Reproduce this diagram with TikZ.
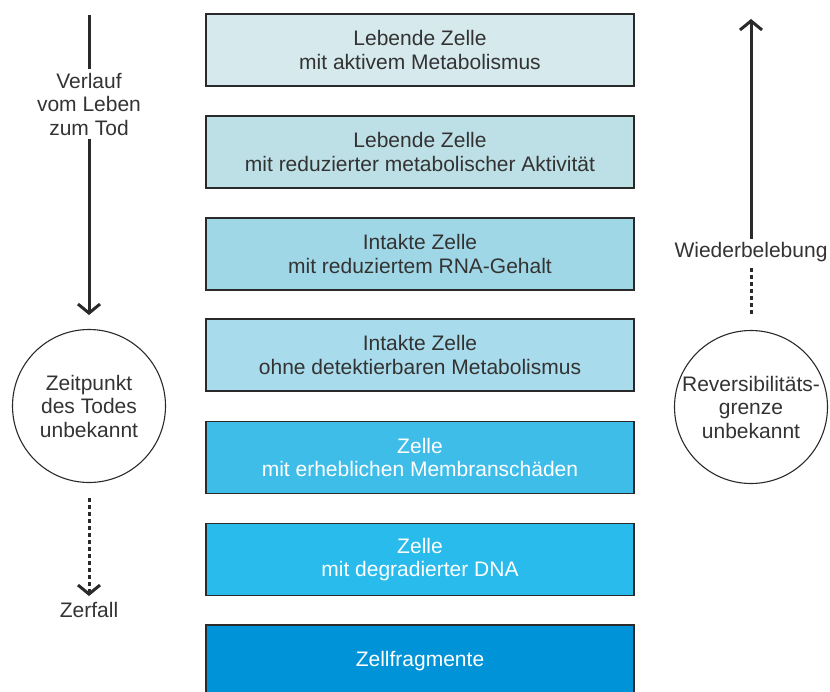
\documentclass[tikz,border=0pt]{standalone}
\usepackage{fontspec}
\setmainfont{Liberation Sans}
\usetikzlibrary{positioning,arrows.meta}

\definecolor{linie}{HTML}{2A2A2A}
\definecolor{schrift}{HTML}{333333}
\definecolor{stufeA}{HTML}{D6E9EC}
\definecolor{stufeB}{HTML}{BDE0E6}
\definecolor{stufeC}{HTML}{A0D7E7}
\definecolor{stufeD}{HTML}{A8DBEB}
\definecolor{stufeE}{HTML}{3FBDE9}
\definecolor{stufeF}{HTML}{29BBEC}
\definecolor{stufeG}{HTML}{0093D7}

\begin{document}
\begin{tikzpicture}[x=1pt,y=-1pt,
  schrift/.style={font=\fontsize{21}{23.5}\selectfont, text=schrift, align=center},
  zustand/.style={schrift, draw=linie, line width=1.3pt, minimum width=428pt, minimum height=72pt, inner sep=0pt},
  hell/.style={text=white},
  kreis/.style={schrift, draw=linie, line width=1.1pt, circle, minimum size=153pt, inner sep=0pt},
  pfeil/.style={draw=linie, line width=3pt},
  tip/.style={-{Straight Barb[length=9pt,width=22pt]}},
  punkte/.style={pfeil, dash pattern=on 4pt off 3pt}]
\clip (0,0) rectangle (830,691);

% Zustaende der Zelle
\node[zustand, fill=stufeA] (z1) at (420,50) {Lebende Zelle\\mit aktivem Metabolismus};
\node[zustand, fill=stufeB] (z2) at (420,152) {Lebende Zelle\\mit reduzierter metabolischer Aktivität};
\node[zustand, fill=stufeC] (z3) at (420,254) {Intakte Zelle\\mit reduziertem RNA-Gehalt};
\node[zustand, fill=stufeD] (z4) at (420,355) {Intakte Zelle\\ohne detektierbaren Metabolismus};
\node[zustand, hell, fill=stufeE] (z5) at (420,457.5) {Zelle\\mit erheblichen Membranschäden};
\node[zustand, hell, fill=stufeF] (z6) at (420,559.5) {Zelle\\mit degradierter DNA};
\node[zustand, hell, fill=stufeG] (z7) at (420,661) {Zellfragmente};

% linke Seite
\coordinate (lstart) at (89,15);
\node[schrift] (verlauf) at (89,104) {Verlauf\\vom Leben\\zum Tod};
\node[kreis] (tod) at (89,406) {Zeitpunkt\\des Todes\\unbekannt};
\node[schrift] (zerfall) at (89,610) {Zerfall};
\coordinate (ltip) at (89,315);
\coordinate (lpunkt) at (89,498);
\coordinate (lende) at (89,596);
\draw[pfeil] (lstart) -- (verlauf.north);
\draw[pfeil, tip] (verlauf.south) -- (ltip);
\draw[punkte, tip] (lpunkt) -- (lende);

% rechte Seite
\node[schrift] (wieder) at (751,252) {Wiederbelebung};
\node[kreis] (grenze) at (751,407) {Reversibilitäts-\\grenze\\unbekannt};
\coordinate (rtip) at (751,19);
\coordinate (rpunkt) at (751,268);
\coordinate (rende) at (751,315);
\draw[pfeil, tip] (wieder.north) -- (rtip);
\draw[punkte] (rpunkt) -- (rende);
\end{tikzpicture}
\end{document}
